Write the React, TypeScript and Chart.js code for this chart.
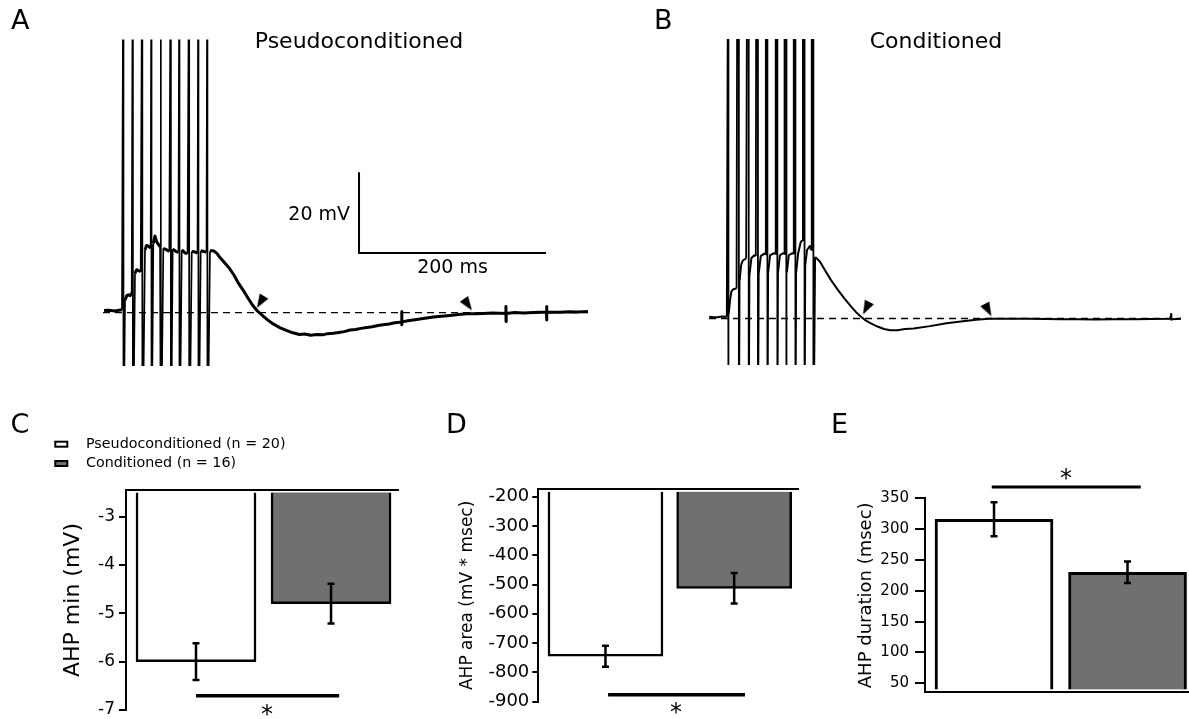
import { useEffect, useRef } from 'react';
import { Chart, registerables } from 'chart.js';

Chart.register(...registerables);

const FONT_FAMILY = '"DejaVu Sans", "Liberation Sans", sans-serif';
Chart.defaults.font.family = FONT_FAMILY;
Chart.defaults.color = '#000';

const CANVAS_W = 1189;
const CANVAS_H = 719;

// ---------------- Intracellular recordings ----------------
// time in ms from sweep start, membrane potential in mV relative to rest
const SPIKE_TOP = 95;
const SPIKE_BOTTOM = -40;

// Pseudoconditioned cell
const pseudoTime = [
  1.1, 6, 12.8, 17, 20.3,
  23.5, 25.5, 27.1, 29, 30.7,
  34.2, 36, 37.8, 40.3,
  44.9, 46.5, 48.4, 51.0,
  53.8, 55.6, 57.4, 61.0,
  64.5, 68.1, 70.9,
  74.5, 78.1, 80.7,
  84.2, 88.0, 90.4,
  94.9, 98.4, 101.1,
  104.5, 108.0, 110.7,
  114.4, 118, 121.6, 125.1, 130, 135, 140, 145, 150, 155, 160, 165, 170, 176, 182, 189, 196, 203, 210,
  216, 222, 228.6, 235, 240, 246.3, 252, 258, 264.2, 270, 276, 282, 288, 294, 299.5, 306, 312, 317.6,
  319.4, 319.5, 319.6, 319.8,
  326, 335.5, 344, 353.3, 362, 371.1, 380, 389, 398, 407, 416, 424.6,
  430.8, 430.9, 431.0, 431.2,
  440, 450, 459.9, 468,
  474.3, 474.4, 474.5, 474.7,
  480, 488.8, 498, 508, 518.7,
];
const pseudoVm = [
  0.5, 0.6, 0.4, 0.6, 0.7,
  3.1, 4.2, 4.4, 4.2, 4.8,
  9.7, 10.6, 10.4, 10.1,
  15.5, 16.6, 16.5, 15.9,
  17.1, 18.9, 17.5, 16.3,
  15.9, 15.5, 15.1,
  15.7, 15.1, 14.9,
  15.5, 14.7, 14.6,
  15.1, 15.0, 14.7,
  15.3, 15.1, 14.9,
  15.3, 15.3, 14.7, 13.6, 12.3, 11.0, 9.3, 7.2, 5.5, 3.6, 1.8, 0.4, -0.6, -1.8, -2.8, -3.7, -4.4, -5.0, -5.4,
  -5.3, -5.6, -5.4, -5.5, -5.2, -5.1, -4.9, -4.7, -4.3, -4.2, -3.9, -3.7, -3.5, -3.2, -3.0, -2.8, -2.5, -2.4,
  -2.4, 0.3, -3.0, -2.3,
  -2.0, -1.7, -1.4, -1.1, -0.9, -0.7, -0.5, -0.3, -0.3, -0.2, -0.1, -0.15,
  -0.2, 1.5, -2.2, -0.2,
  0.0, -0.1, 0.0, 0.1,
  0.1, 1.5, -1.8, 0.1,
  0.1, 0.1, 0.2, 0.15, 0.25,
];
const pseudoSpikeUp = [21.7, 31.8, 41.9, 51.7, 61.7, 72.4, 81.6, 92.0, 101.9, 111.5];
const pseudoSpikeDown = [21.9, 32.0, 42.1, 51.9, 61.9, 72.6, 81.8, 92.2, 102.1, 111.7];
const pseudoArrowTime = [168.4, 390.3];
const pseudoArrowVm = [2.6, 1.95];
const pseudoArrowAngle = [211, 145];

// Conditioned cell
const condTime = [
  0.3, 5, 9.6, 14, 19.3,
  21.4, 23, 24.3, 26.2, 29.9,
  33.2, 34.8, 36.7, 40.3,
  43.9, 46.0, 49.2, 50.8,
  54.0, 56.2, 59.9, 61.2,
  64.2, 66.3, 70.6, 71.9,
  74.9, 77.0, 80.2, 81.5,
  84.5, 86.6, 90.4, 91.5,
  94.6, 96.8, 99.5, 101.1,
  104.5, 106.4, 109.6, 110.9,
  115.2, 120.5, 125.9, 132.6, 140.1, 147.1, 154.3, 159.4, 165.0, 170.0, 175.7, 182.9, 190.0, 196.8,
  204.3, 212.8, 222.1, 239.9, 257.7, 275.6, 289.8, 304.1, 325, 346.5, 365, 381.8, 400, 418.2, 440,
  461.0, 480, 500.6, 501.4, 501.6, 501.8, 502.7, 512.3,
];
const condVm = [
  0.4, 0.3, 0.3, 0.5, 0.4,
  1.2, 4.8, 6.6, 7.2, 7.4,
  9.2, 13.1, 14.3, 14.8,
  10.7, 14.9, 15.6, 15.4,
  11.2, 15.4, 16.0, 15.8,
  11.4, 15.6, 16.1, 15.9,
  11.4, 15.6, 16.1, 15.9,
  11.4, 15.6, 16.1, 16.0,
  11.4, 16.1, 18.8, 19.3,
  13.2, 16.9, 17.9, 16.9,
  15.2, 14.0, 11.9, 9.4, 7.0, 4.9, 2.9, 1.6, 0.4, -0.5, -1.2, -2.0, -2.6, -2.9,
  -2.9, -2.6, -2.5, -1.9, -1.2, -0.7, -0.35, -0.1, -0.05, -0.1, -0.15, -0.2, -0.2, -0.25, -0.2,
  -0.2, -0.15, -0.1, -0.1, 1.1, -0.3, -0.2, -0.1,
];
const condSpikeUp = [20.6, 30.7, 41.4, 51.3, 61.7, 72.4, 82.0, 92.0, 101.9, 111.5];
const condSpikeDown = [20.8, 32.4, 43.1, 53.1, 63.4, 74.2, 83.7, 93.8, 103.7, 113.3];
const condArrowTime = [170.6, 303.0];
const condArrowVm = [2.5, 2.05];
const condArrowAngle = [207, 152];

// Calibration bar: 200 ms by 20 mV
const scaleBarStart = { t: 273.8, v: 14.7 };
const SCALE_BAR_MS = 200;
const SCALE_BAR_MV = 20;

// ---------------- Group statistics (mean ± SEM) ----------------
const groups = ['Pseudoconditioned (n = 20)', 'Conditioned (n = 16)'];
const groupColors = ['#ffffff', '#707070'];
const groupX = [1, 2];

const ahpMin = [-6.0, -4.8];
const ahpMinSem = [0.38, 0.41];
const ahpMinTicks = [-3, -4, -5, -6, -7];

const ahpArea = [-745, -513];
const ahpAreaSem = [36, 52];
const ahpAreaTicks = [-200, -300, -400, -500, -600, -700, -800, -900];

const ahpDuration = [316, 230];
const ahpDurationSem = [27.5, 17.5];
const ahpDurationTicks = [50, 100, 150, 200, 250, 300, 350];

// ---------------- helpers ----------------
type Pt = { x: number; y: number };

function buildTrace(time: number[], vm: number[], up: number[], down: number[]): Pt[] {
  const pts: Pt[] = [];
  let k = 0;
  for (let i = 0; i < time.length; i++) {
    while (k < up.length && up[k] < time[i]) {
      pts.push({ x: up[k], y: SPIKE_TOP });
      pts.push({ x: down[k], y: SPIKE_TOP });
      pts.push({ x: down[k], y: SPIKE_BOTTOM });
      k++;
    }
    pts.push({ x: time[i], y: vm[i] });
  }
  return pts;
}

function zip(xs: number[], ys: number[]): Pt[] {
  return xs.map((x, i) => ({ x, y: ys[i] }));
}

function makeArrowHead(): HTMLCanvasElement {
  const c = document.createElement('canvas');
  c.width = 10;
  c.height = 14;
  const g = c.getContext('2d')!;
  g.fillStyle = '#000';
  g.beginPath();
  g.moveTo(5, 0);
  g.lineTo(10, 14);
  g.lineTo(0, 14);
  g.closePath();
  g.fill();
  return c;
}

function font(size: number) {
  return `${size}px ${FONT_FAMILY}`;
}

function drawLabel(ctx: CanvasRenderingContext2D, text: string, x: number, y: number, size: number, align: CanvasTextAlign = 'left') {
  ctx.font = font(size);
  ctx.textAlign = align;
  ctx.textBaseline = 'alphabetic';
  ctx.fillStyle = '#000';
  ctx.fillText(text, x, y);
}

function drawStar(chart: any, xv: number, yv: number, size: number) {
  const { ctx, scales } = chart;
  const px = scales.x.getPixelForValue(xv);
  const py = scales.y.getPixelForValue(yv);
  ctx.font = font(size);
  ctx.textAlign = 'center';
  ctx.textBaseline = 'alphabetic';
  ctx.fillStyle = '#000';
  const m = ctx.measureText('*');
  ctx.fillText('*', px, py + (m.actualBoundingBoxAscent - m.actualBoundingBoxDescent) / 2);
}

const isSpikeValue = (v: number) => v === SPIKE_TOP || v === SPIKE_BOTTOM;

// ---------------- trace panels ----------------
type TraceSpec = {
  letter: string; letterX: number; title: string; titleX: number;
  time: number[]; vm: number[]; up: number[]; down: number[];
  arrowT: number[]; arrowV: number[]; arrowA: number[];
  xMax: number; yMin: number; yMax: number; lineWidth: number; spikeWidth: number;
  area: { left: number; top: number; right: number; bottom: number };
  scaleBar: boolean;
};

function traceConfig(s: TraceSpec) {
  const arrowImg = makeArrowHead();
  const datasets: any[] = [
    {
      data: [{ x: 0, y: 0 }, { x: s.time[s.time.length - 1], y: 0 }],
      borderColor: '#000', borderWidth: 1.4, borderDash: [7, 5], pointRadius: 0,
    },
    {
      data: buildTrace(s.time, s.vm, s.up, s.down),
      borderColor: '#000', borderWidth: s.lineWidth, pointRadius: 0, tension: 0,
      borderJoinStyle: 'round',
      segment: {
        borderWidth: (ctx: any) =>
          isSpikeValue(ctx.p0.parsed.y) || isSpikeValue(ctx.p1.parsed.y) ? s.spikeWidth : undefined,
      },
    },
    {
      type: 'scatter',
      data: zip(s.arrowT, s.arrowV),
      pointStyle: arrowImg, pointRotation: s.arrowA, pointRadius: 6, showLine: false,
    },
  ];
  if (s.scaleBar) {
    datasets.push({
      data: [
        { x: scaleBarStart.t, y: scaleBarStart.v + SCALE_BAR_MV },
        { x: scaleBarStart.t, y: scaleBarStart.v },
        { x: scaleBarStart.t + SCALE_BAR_MS, y: scaleBarStart.v },
      ],
      borderColor: '#000', borderWidth: 2, pointRadius: 0, clip: false,
      borderJoinStyle: 'miter',
    });
  }
  const textPlugin = {
    id: 'traceText',
    afterDraw(chart: any) {
      const { ctx, scales } = chart;
      ctx.save();
      drawLabel(ctx, s.letter, s.letterX, 28.5, 27);
      drawLabel(ctx, s.title, s.titleX, 48, 22, 'center');
      if (s.scaleBar) {
        const x0 = scales.x.getPixelForValue(scaleBarStart.t);
        const x1 = scales.x.getPixelForValue(scaleBarStart.t + SCALE_BAR_MS);
        const y0 = scales.y.getPixelForValue(scaleBarStart.v);
        const y1 = scales.y.getPixelForValue(scaleBarStart.v + SCALE_BAR_MV);
        drawLabel(ctx, `${SCALE_BAR_MV} mV`, x0 - 9, (y0 + y1) / 2 + 7.5, 19, 'right');
        drawLabel(ctx, `${SCALE_BAR_MS} ms`, (x0 + x1) / 2, y0 + 20, 19, 'center');
      }
      ctx.restore();
    },
  };
  return {
    type: 'line',
    data: { datasets },
    options: {
      animation: false, responsive: false, events: [],
      layout: {
        padding: {
          left: s.area.left, top: s.area.top,
          right: CANVAS_W - s.area.right, bottom: CANVAS_H - s.area.bottom,
        },
      },
      plugins: { legend: { display: false }, tooltip: { enabled: false } },
      scales: {
        x: { type: 'linear', display: false, min: 0, max: s.xMax },
        y: { type: 'linear', display: false, min: s.yMin, max: s.yMax },
      },
    },
    plugins: [textPlugin],
  };
}

// ---------------- bar panels ----------------
type BarSpec = {
  letter: string; letterX: number;
  values: number[]; sem: number[]; ticks: number[];
  yMin: number; yMax: number; base: number;
  xMin: number; xMax: number; barWidth: number; barBorder: number;
  axisTitle: string; titleSize: number; titleCenterX: number;
  tickSize: number; tickPad: number; tickLen: number;
  area: { left: number; top: number; right: number; bottom: number };
  xAxisPos: 'top' | 'bottom';
  sig: { x0: number; x1: number; y: number; width: number };
  star: { x: number; y: number };
  legend: boolean;
};

function barConfig(s: BarSpec) {
  const lineHeight = s.titleSize * 1.2;
  const padLeft = s.titleCenterX - lineHeight / 2;
  const axisWidth = s.area.left - padLeft;

  const errorBars = {
    id: 'errorBars',
    afterDatasetsDraw(chart: any) {
      const { ctx, scales: { x, y } } = chart;
      ctx.save();
      ctx.strokeStyle = '#000';
      ctx.lineWidth = 2.5;
      s.values.forEach((v, i) => {
        const px = x.getPixelForValue(groupX[i]);
        const top = y.getPixelForValue(v + s.sem[i]);
        const bot = y.getPixelForValue(v - s.sem[i]);
        ctx.beginPath();
        ctx.moveTo(px, top); ctx.lineTo(px, bot);
        ctx.moveTo(px - 3.5, top); ctx.lineTo(px + 3.5, top);
        ctx.moveTo(px - 3.5, bot); ctx.lineTo(px + 3.5, bot);
        ctx.stroke();
      });
      ctx.restore();
    },
  };

  const textPlugin = {
    id: 'barText',
    afterDraw(chart: any) {
      const { ctx } = chart;
      ctx.save();
      drawLabel(ctx, s.letter, s.letterX, 433, 27);
      drawStar(chart, s.star.x, s.star.y, 24);
      if (s.legend) {
        const rows = [447.7, 467];
        groups.forEach((g, i) => {
          ctx.fillStyle = groupColors[i];
          ctx.fillRect(55.3, rows[i] - 6, 12, 5);
          ctx.strokeStyle = '#000';
          ctx.lineWidth = 2;
          ctx.strokeRect(55.3, rows[i] - 6, 12, 5);
          drawLabel(ctx, g, 86, rows[i], 14.3);
        });
      }
      ctx.restore();
    },
  };

  return {
    type: 'bar',
    data: {
      datasets: [
        {
          type: 'bar',
          data: zip(groupX, s.values),
          backgroundColor: groupColors,
          borderColor: '#000',
          borderWidth: s.barBorder,
          borderSkipped: 'start',
          base: s.base,
          barThickness: s.barWidth,
        },
        {
          type: 'line',
          data: [{ x: s.sig.x0, y: s.sig.y }, { x: s.sig.x1, y: s.sig.y }],
          borderColor: '#000', borderWidth: s.sig.width, pointRadius: 0, clip: false,
          borderCapStyle: 'butt',
        },
      ],
    },
    options: {
      animation: false, responsive: false, events: [],
      layout: {
        padding: {
          left: padLeft, top: s.area.top,
          right: CANVAS_W - s.area.right, bottom: CANVAS_H - s.area.bottom,
        },
      },
      plugins: { legend: { display: false }, tooltip: { enabled: false } },
      scales: {
        x: {
          type: 'linear', position: s.xAxisPos, min: s.xMin, max: s.xMax, offset: false,
          grid: { display: false }, ticks: { display: false },
          border: { display: true, color: '#000', width: 2 },
          afterFit: (sc: any) => { sc.height = 0; sc.paddingLeft = 0; sc.paddingRight = 0; },
        },
        y: {
          type: 'linear', min: s.yMin, max: s.yMax, beginAtZero: false,
          afterBuildTicks: (sc: any) => { sc.ticks = s.ticks.map((v) => ({ value: v })); },
          afterFit: (sc: any) => { sc.width = axisWidth; sc.paddingTop = 0; sc.paddingBottom = 0; },
          ticks: { font: { size: s.tickSize }, color: '#000', padding: s.tickPad },
          grid: {
            drawOnChartArea: false, drawTicks: true, tickLength: s.tickLen,
            color: '#000', lineWidth: 2,
          },
          border: { display: true, color: '#000', width: 2 },
          title: {
            display: true, text: s.axisTitle, color: '#000',
            font: { size: s.titleSize }, padding: 0,
          },
        },
      },
    },
    plugins: [errorBars, textPlugin],
  };
}

const panelA: TraceSpec = {
  letter: 'A', letterX: 11, title: 'Pseudoconditioned', titleX: 359,
  time: pseudoTime, vm: pseudoVm, up: pseudoSpikeUp, down: pseudoSpikeDown,
  arrowT: pseudoArrowTime, arrowV: pseudoArrowVm, arrowA: pseudoArrowAngle,
  xMax: 520.8, yMin: -13.2, yMax: 67.5, lineWidth: 3, spikeWidth: 1.7,
  area: { left: 103, top: 39.5, right: 590, bottom: 366 },
  scaleBar: true,
};

const panelB: TraceSpec = {
  letter: 'B', letterX: 654, title: 'Conditioned', titleX: 936,
  time: condTime, vm: condVm, up: condSpikeUp, down: condSpikeDown,
  arrowT: condArrowTime, arrowV: condArrowVm, arrowA: condArrowAngle,
  xMax: 513.4, yMin: -11.5, yMax: 69, lineWidth: 2, spikeWidth: 1.8,
  area: { left: 709, top: 39, right: 1189, bottom: 365 },
  scaleBar: false,
};

const panelC: BarSpec = {
  letter: 'C', letterX: 10.5,
  values: ahpMin, sem: ahpMinSem, ticks: ahpMinTicks,
  yMin: -7, yMax: -2.45, base: -2.5,
  xMin: 0.4815, xMax: 2.496, barWidth: 120, barBorder: 2.5,
  axisTitle: 'AHP min (mV)', titleSize: 22, titleCenterX: 73,
  tickSize: 17, tickPad: 4, tickLen: 7,
  area: { left: 126, top: 490, right: 398, bottom: 710 },
  xAxisPos: 'top',
  sig: { x0: 1, x1: 2.06, y: -6.706, width: 3.5 },
  star: { x: 1.526, y: -7.0 },
  legend: true,
};

const panelD: BarSpec = {
  letter: 'D', letterX: 446,
  values: ahpArea, sem: ahpAreaSem, ticks: ahpAreaTicks,
  yMin: -900, yMax: -174, base: -183,
  xMin: 0.478, xMax: 2.496, barWidth: 115, barBorder: 2.5,
  axisTitle: 'AHP area (mV * msec)', titleSize: 17, titleCenterX: 467.7,
  tickSize: 18, tickPad: 3, tickLen: 6,
  area: { left: 538.3, top: 489, right: 798, bottom: 701.7 },
  xAxisPos: 'top',
  sig: { x0: 1.02, x1: 2.084, y: -876, width: 3.5 },
  star: { x: 1.548, y: -920 },
  legend: false,
};

const panelE: BarSpec = {
  letter: 'E', letterX: 831,
  values: ahpDuration, sem: ahpDurationSem, ticks: ahpDurationTicks,
  yMin: 35.4, yMax: 350, base: 40,
  xMin: 0.483, xMax: 2.453, barWidth: 118, barBorder: 3,
  axisTitle: 'AHP duration (msec)', titleSize: 18, titleCenterX: 866.7,
  tickSize: 15, tickPad: 6, tickLen: 10,
  area: { left: 925, top: 498.3, right: 1188, bottom: 692.3 },
  xAxisPos: 'bottom',
  sig: { x0: 0.983, x1: 2.099, y: 368.3, width: 3 },
  star: { x: 1.539, y: 389.4 },
  legend: false,
};

function ChartLayer({ build }: { build: () => any }) {
  const ref = useRef<HTMLCanvasElement>(null);
  useEffect(() => {
    const chart = new Chart(ref.current as HTMLCanvasElement, build());
    return () => chart.destroy();
  }, []);
  return (
    <canvas
      ref={ref}
      width={CANVAS_W}
      height={CANVAS_H}
      style={{ position: 'absolute', left: 0, top: 0, width: CANVAS_W, height: CANVAS_H }}
    />
  );
}

export default function App() {
  return (
    <div
      style={{
        position: 'absolute', left: 0, top: 0, width: CANVAS_W, height: CANVAS_H,
        background: '#fff', overflow: 'hidden',
      }}
    >
      <ChartLayer build={() => traceConfig(panelA)} />
      <ChartLayer build={() => traceConfig(panelB)} />
      <ChartLayer build={() => barConfig(panelC)} />
      <ChartLayer build={() => barConfig(panelD)} />
      <ChartLayer build={() => barConfig(panelE)} />
    </div>
  );
}
